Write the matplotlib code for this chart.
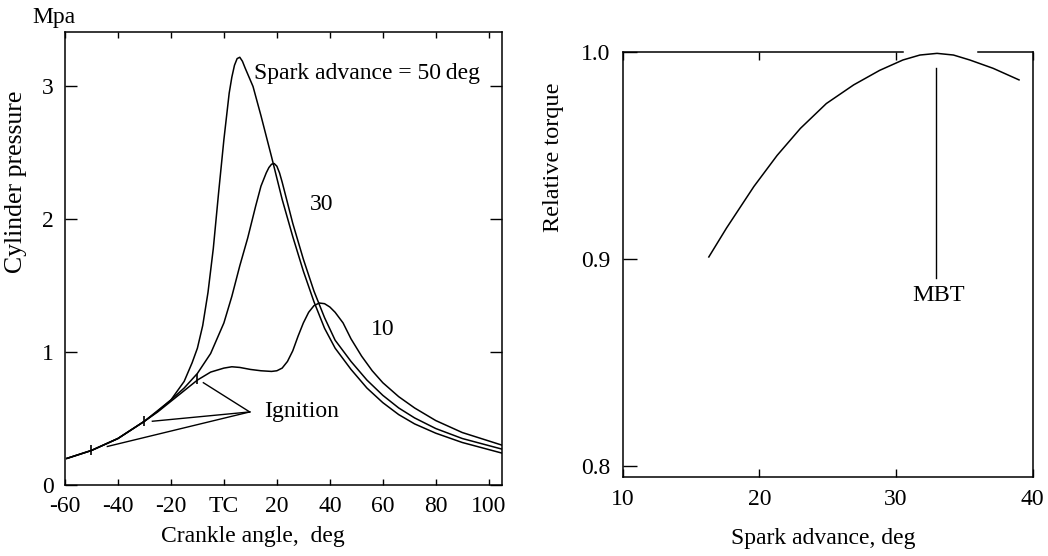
import matplotlib
matplotlib.use("Agg")
import matplotlib.pyplot as plt

plt.rcParams['font.family'] = ['Liberation Serif', 'DejaVu Serif']

# ---- Left panel data: cylinder pressure (MPa) vs crank angle (deg) ----
x50 = [-59.3, -50, -40, -30, -25, -20, -15, -12, -10, -8, -6, -4, -2, 0, 2, 3, 4, 5, 6, 7, 8, 11, 14, 18, 22, 26, 30, 34, 38, 42, 48, 54, 60, 66, 72, 80, 90, 105]
y50 = [0.20, 0.26, 0.35, 0.48, 0.56, 0.64, 0.78, 0.92, 1.03, 1.20, 1.45, 1.78, 2.20, 2.60, 2.95, 3.07, 3.16, 3.21, 3.22, 3.19, 3.14, 3.00, 2.78, 2.47, 2.15, 1.87, 1.61, 1.38, 1.18, 1.03, 0.87, 0.73, 0.62, 0.53, 0.46, 0.39, 0.32, 0.24]

x30 = [-59.3, -50, -40, -30, -25, -20, -15, -10, -5, 0, 3, 6, 9, 12, 14, 16, 17, 18, 19, 20, 21, 22, 26, 30, 34, 38, 42, 48, 54, 60, 66, 72, 80, 90, 105]
y30 = [0.20, 0.26, 0.35, 0.48, 0.555, 0.64, 0.73, 0.84, 0.99, 1.22, 1.42, 1.65, 1.86, 2.10, 2.25, 2.35, 2.39, 2.415, 2.42, 2.40, 2.35, 2.28, 1.97, 1.70, 1.46, 1.26, 1.09, 0.93, 0.79, 0.675, 0.58, 0.505, 0.425, 0.35, 0.27]

x10 = [-59.3, -50, -40, -30, -25, -20, -15, -10, -5, 0, 3, 6, 10, 14, 18, 20, 22, 24, 26, 28, 30, 32, 34, 36, 38, 40, 42, 45, 48, 52, 56, 60, 66, 72, 80, 90, 105]
y10 = [0.20, 0.26, 0.35, 0.48, 0.55, 0.63, 0.71, 0.79, 0.85, 0.88, 0.89, 0.885, 0.87, 0.86, 0.855, 0.86, 0.88, 0.93, 1.01, 1.12, 1.22, 1.30, 1.35, 1.37, 1.365, 1.34, 1.30, 1.22, 1.10, 0.97, 0.86, 0.77, 0.665, 0.58, 0.485, 0.395, 0.30]

ign_x = [-50, -30, -10]
ign_y = [0.26, 0.48, 0.80]
ign_label = (9.75, 0.55)
ign_ends_x = [-44, -27, -7.75]
ign_ends_y = [0.29, 0.48, 0.77]

left_xticks = [-60, -40, -20, 0, 20, 40, 60, 80, 100]
left_xticklabels = ['-60', '-40', '-20', 'TC', '20', '40', '60', '80', '100']
left_yticks = [0, 1, 2, 3]

# ---- Right panel data: relative torque vs spark advance ----
sa = [16.3, 17.6, 19.6, 21.3, 23.0, 24.9, 26.9, 28.8, 30.5, 31.75, 33.0, 34.2, 35.4, 37.1, 39.0]
torque = [0.901, 0.915, 0.935, 0.950, 0.963, 0.975, 0.984, 0.991, 0.996, 0.9984, 0.9992, 0.9984, 0.996, 0.992, 0.9864]
mbt_x = 32.9
right_xticks = [10, 20, 30, 40]
right_yticks = [0.8, 0.9, 1.0]

fig = plt.figure(figsize=(10.48, 5.56), dpi=100)
FS = 17
lw = 1.1

# ---------------- Left axes ----------------
ax1 = fig.add_axes([0.062, 0.1277, 0.417, 0.8147])
for xs, ys in [(x50, y50), (x30, y30), (x10, y10)]:
    ax1.plot(xs, ys, color='black', lw=lw, solid_joinstyle='round')
ax1.plot(ign_x, ign_y, linestyle='none', marker='|', markersize=7, mew=1.2, color='black')
for ex, ey in zip(ign_ends_x, ign_ends_y):
    ax1.plot([ign_label[0], ex], [ign_label[1], ey], color='black', lw=1.0)
ax1.text(15.0, 0.55, 'Ignition', fontsize=FS, va='center', ha='left')
ax1.text(11.4, 3.10, 'Spark advance = 50\u2009deg', fontsize=FS, va='center', ha='left')
ax1.text(37.0, 2.11, '30', fontsize=FS, va='center', ha='center')
ax1.text(60.0, 1.17, '10', fontsize=FS, va='center', ha='center')

ax1.set_xlim(-59.3, 105)
ax1.set_ylim(0, 3.41)
ax1.set_xticks(left_xticks)
ax1.set_xticklabels(left_xticklabels)
ax1.set_yticks(left_yticks)
ax1.tick_params(axis='x', direction='in', length=4.5, width=1.0, labelsize=FS, top=True, pad=8)
ax1.tick_params(axis='y', direction='in', length=8.5, width=1.0, labelsize=FS, right=True, pad=8)
ax1.set_xlabel('Crankle angle,  deg', fontsize=FS)
ax1.xaxis.set_label_coords(0.43, -0.09)
ax1.set_ylabel('Cylinder pressure', fontsize=18.5)
ax1.yaxis.set_label_coords(-0.087, 0.67)
ax1.text(-0.0755, 1.031, 'Mpa', transform=ax1.transAxes, fontsize=FS, ha='left', va='center')
for s in ax1.spines.values():
    s.set_linewidth(1.1)

# ---------------- Right axes ----------------
ax2 = fig.add_axes([0.5942, 0.1426, 0.3912, 0.7644])
ax2.plot(sa, torque, color='black', lw=lw)
ax2.plot([mbt_x, mbt_x], [0.992, 0.891], color='black', lw=1.0)
ax2.text(mbt_x + 0.2, 0.8825, 'MBT', fontsize=17.5, ha='center', va='center')
ax2.set_xlim(10, 40)
ax2.set_ylim(0.795, 1.0)
ax2.set_xticks(right_xticks)
ax2.set_yticks(right_yticks)
ax2.set_yticklabels(['0.8', '0.9', '1.0'])
ax2.tick_params(axis='x', direction='in', length=6, width=1.0, labelsize=FS, top=True, pad=9)
ax2.tick_params(axis='y', direction='in', length=10, width=1.0, labelsize=FS, pad=9)
ax2.set_xlabel('Spark advance, deg', fontsize=FS)
ax2.xaxis.set_label_coords(0.49, -0.12)
ax2.set_ylabel('Relative torque', fontsize=17.5)
ax2.yaxis.set_label_coords(-0.143, 0.752)
ax2.spines['top'].set_visible(False)
ax2.plot([10, 30.5], [1.0, 1.0], color='black', lw=1.1, clip_on=False)
ax2.plot([36.0, 40], [1.0, 1.0], color='black', lw=1.1, clip_on=False)
for s in ['left', 'right', 'bottom']:
    ax2.spines[s].set_linewidth(1.1)

fig.savefig('out.png', dpi=100)
